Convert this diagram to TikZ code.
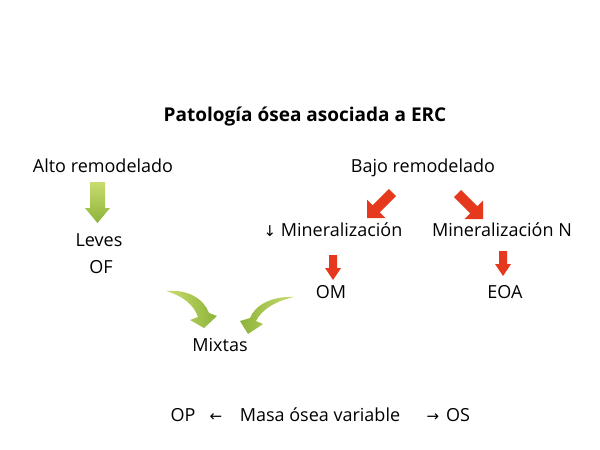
\documentclass[tikz,border=0pt]{standalone}
\usepackage{fontspec}
\setmainfont{Open Sans}
\newfontfamily\arrfont{DejaVu Sans}
\usetikzlibrary{shadings}
\definecolor{gdark}{HTML}{8DB33A}
\definecolor{glight}{HTML}{C8DC6E}
\definecolor{rarr}{HTML}{E5381D}
\tikzset{
  lbl/.style={font=\fontsize{18}{21}\selectfont, inner sep=0pt, anchor=base},
  ttl/.style={font=\fontsize{19}{22}\selectfont\bfseries, inner sep=0pt, anchor=base},
  garrow/.style={top color=glight, bottom color=gdark, draw=none},
  redarrow/.style={fill=rarr, draw=none},
}
\begin{document}
\begin{tikzpicture}[x=1pt,y=-1pt]
\useasboundingbox (0,0) rectangle (600,450);
\fill[white] (0,0) rectangle (600,450);
% texts
\node[ttl] (title) at (305,121) {Patología ósea asociada a ERC};
\node[lbl] (alto) at (103,172) {Alto remodelado};
\node[lbl] (bajo) at (423,172) {Bajo remodelado};
\node[lbl] (minl) at (333,236) {{\arrfont\fontsize{15}{16}\selectfont↓} Mineralización};
\node[lbl] (minn) at (502,236) {Mineralización N};
\node[lbl] (leves) at (99,246) {Leves};
\node[lbl] (of) at (101,273) {OF};
\node[lbl] (om) at (331,298) {OM};
\node[lbl] (eoa) at (505,298) {EOA};
\node[lbl] (mix) at (220,351) {Mixtas};
\node[lbl] (op) at (183,421) {OP};
\node[lbl] (larr) at (216,421) {\arrfont\fontsize{15}{16}\selectfont←};
\node[lbl] (masa) at (320,421) {Masa ósea variable};
\node[lbl] (rarrw) at (433,421) {\arrfont\fontsize{15}{16}\selectfont→};
\node[lbl] (os) at (458,421) {OS};
% green straight arrow
\shade[garrow] (90,182) -- (105,182) -- (105,208) -- (110,208) -- (97.5,223) -- (85,208) -- (90,208) -- cycle;
% red diagonal arrows
\begin{scope}[shift={(367,218)}, rotate=45]
  \fill[redarrow] (0,0) -- (13,-13) -- (13,-5) -- (36,-5) -- (36,5) -- (13,5) -- (13,13) -- cycle;
\end{scope}
\begin{scope}[shift={(483,219)}, rotate=135]
  \fill[redarrow] (0,0) -- (13,-13) -- (13,-5) -- (36,-5) -- (36,5) -- (13,5) -- (13,13) -- cycle;
\end{scope}
% red down arrows
\fill[redarrow] (329,255) -- (337,255) -- (337,268) -- (341,268) -- (333,280) -- (325,268) -- (329,268) -- cycle;
\fill[redarrow] (499,251) -- (507,251) -- (507,264) -- (511,264) -- (503,276) -- (495,264) -- (499,264) -- cycle;
% curved green arrows
\shade[left color=glight, right color=gdark, draw=none]
  (166,291) .. controls (188,289) and (204,299) .. (209,313)
  -- (217,316) -- (204,328) -- (190,320) -- (198,317)
  .. controls (194,305) and (183,296) .. (166,291) -- cycle;
\shade[left color=gdark, right color=glight, draw=none]
  (294,297) .. controls (272,296) and (255,305) .. (250,318)
  -- (240,321) -- (248,334) -- (263,324) -- (256,321)
  .. controls (262,309) and (276,301) .. (294,297) -- cycle;
\end{tikzpicture}
\end{document}
